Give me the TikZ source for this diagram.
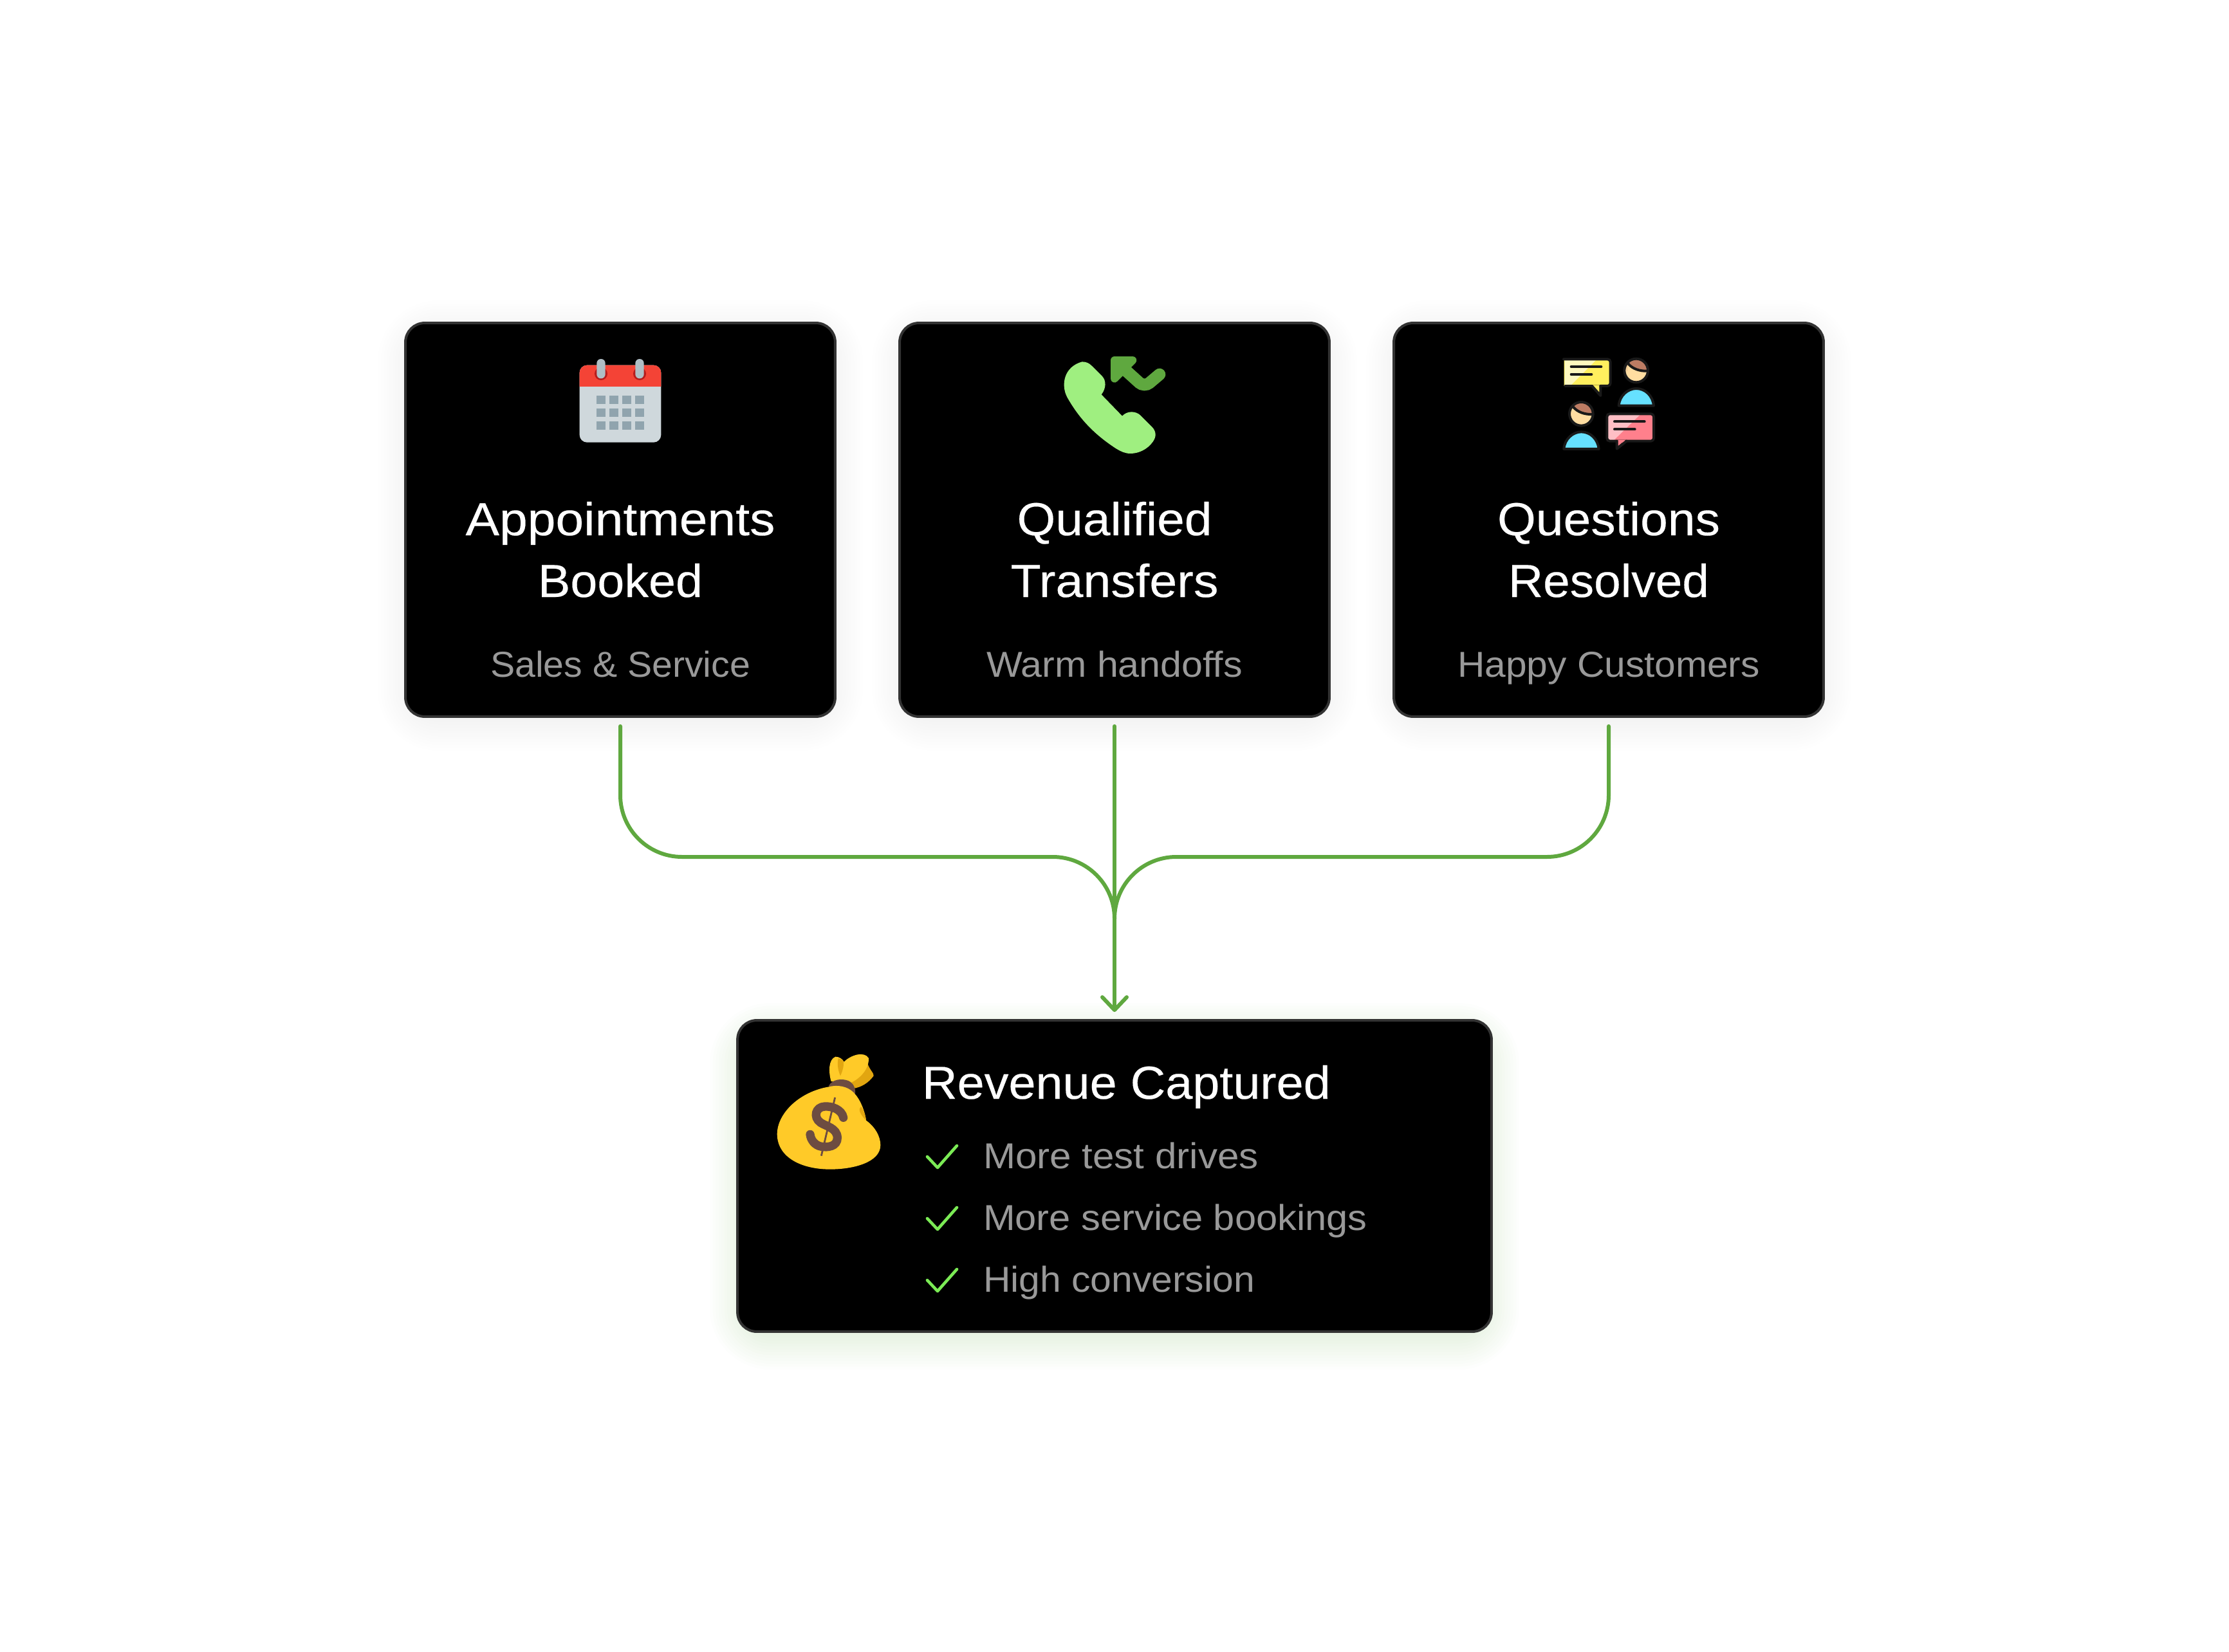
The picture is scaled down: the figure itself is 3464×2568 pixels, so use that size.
\documentclass[tikz,border=0pt]{standalone}
\usepackage{fontspec}
\usepackage{graphicx}
\setmainfont{Liberation Sans}
\newfontfamily\titlefont[FakeBold=0.25]{Liberation Sans}
\usetikzlibrary{calc,arrows.meta}
\definecolor{linkgreen}{HTML}{5FA83F}
\definecolor{bordergrey}{HTML}{333333}
\definecolor{subgrey}{HTML}{999999}
\definecolor{checkgreen}{HTML}{7BEB55}
\definecolor{calred}{HTML}{F44336}
\definecolor{calring}{HTML}{B71C1C}
\definecolor{calbar}{HTML}{B0BEC5}
\definecolor{calbody}{HTML}{CFD8DC}
\definecolor{calcell}{HTML}{90A4AE}
\definecolor{phonegreen}{HTML}{9FEF80}
\definecolor{iconink}{HTML}{191919}
\definecolor{bubyellow}{HTML}{FFEF5E}
\definecolor{bubyellowl}{HTML}{FFF9BF}
\definecolor{bubpink}{HTML}{FF808C}
\definecolor{bubpinkl}{HTML}{FFBFC5}
\definecolor{skin}{HTML}{FFDDA1}
\definecolor{hair}{HTML}{BD7C63}
\definecolor{shirt}{HTML}{66E1FF}
\definecolor{bagyellow}{HTML}{FFCA28}
\definecolor{bagdark}{HTML}{E2A610}
\definecolor{bagbrown}{HTML}{6D4C41}
\def\pxu{0.56905pt}
\newsavebox\fitbox
\newcommand\fitw[2]{\sbox\fitbox{#2}\pgfmathsetmacro\fitx{#1*0.56905/\the\wd\fitbox}\scalebox{\fitx}[1]{\usebox\fitbox}}
\newcommand\softglow[6]{% x1 y1 x2 y2 colour opacity
  \foreach \gi in {1,...,14}{
    \pgfmathsetmacro\gd{\gi*4.5}
    \fill[#5,opacity=#6,rounded corners=\gd*0.56905pt+18pt]
      (#1-\gd,#2-\gd) rectangle (#3+\gd,#4+\gd);
  }}
\tikzset{
  cardbox/.style={draw=bordergrey,fill=black,line width=4*\pxu,rounded corners=30*\pxu,inner sep=0pt,outer sep=0pt},
  titletext/.style={text=white,inner sep=0pt,outer sep=0pt,anchor=base,font=\titlefont\fontsize{40.97}{48}\selectfont},
  subtext/.style={text=subgrey,inner sep=0pt,outer sep=0pt,anchor=base,font=\fontsize{31.87}{38}\selectfont},
  link/.style={draw=linkgreen,line width=6*\pxu,line cap=round},
  checkmark/.style={draw=checkgreen,line width=4.6*\pxu,line cap=round,line join=round},
  iconscope/.style={x=0.0066667cm,y=-0.0066667cm},
  inkline/.style={draw=iconink,line width=4*\pxu,line cap=round,line join=round},
}
\begin{document}
\begin{tikzpicture}[x=0.02cm,y=-0.02cm]
\useasboundingbox (0,0) rectangle (3464,2568);
% soft shadows
\softglow{650}{530}{1278}{1104}{black}{0.003}
\softglow{1418}{530}{2046}{1104}{black}{0.003}
\softglow{2186}{530}{2814}{1104}{black}{0.003}
\softglow{1166}{1622}{2298}{2066}{linkgreen}{0.012}
% cards
\node[cardbox,minimum width=668*\pxu,minimum height=612*\pxu] (card1) at (964,808) {};
\node[cardbox,minimum width=668*\pxu,minimum height=612*\pxu] (card2) at (1732,808) {};
\node[cardbox,minimum width=668*\pxu,minimum height=612*\pxu] (card3) at (2500,808) {};
\node[cardbox,minimum width=1172*\pxu,minimum height=484*\pxu] (result) at (1732,1828) {};
% card text
\node[titletext] (t1a) at (964,832) {\fitw{481}{Appointments}};
\node[titletext] (t1b) at (964,928) {\fitw{256}{Booked}};
\node[subtext] (s1) at (964,1052) {\fitw{404}{Sales \& Service}};
\node[titletext] (t2a) at (1732,832) {\fitw{303}{Qualified}};
\node[titletext] (t2b) at (1732,928) {\fitw{323}{Transfers}};
\node[subtext] (s2) at (1732,1052) {\fitw{398}{Warm handoffs}};
\node[titletext] (t3a) at (2500,832) {\fitw{346}{Questions}};
\node[titletext] (t3b) at (2500,928) {\fitw{312}{Resolved}};
\node[subtext] (s3) at (2500,1052) {\fitw{470}{Happy Customers}};
\node[titletext,anchor=base west] (rt) at (1433,1708) {\fitw{635}{Revenue Captured}};
\node[subtext,anchor=base west] (r1) at (1528,1816) {\fitw{428}{More test drives}};
\node[subtext,anchor=base west] (r2) at (1528,1912) {\fitw{597}{More service bookings}};
\node[subtext,anchor=base west] (r3) at (1528,2008) {\fitw{422}{High conversion}};
% connectors
\coordinate (merge) at (1732,1428);
\coordinate (bus) at (1732,1332);
\coordinate (from1) at ($(card1.south)+(0,15)$);
\coordinate (from2) at ($(card2.south)+(0,15)$);
\coordinate (from3) at ($(card3.south)+(0,15)$);
\coordinate (into) at ($(result.north)+(0,-13)$);
\draw[link,rounded corners=96*\pxu] (from1) -- (from1 |- bus) -- (bus) -- (merge);
\draw[link,rounded corners=96*\pxu] (from3) -- (from3 |- bus) -- (bus) -- (merge);
\draw[link,-{Straight Barb[length=20*\pxu,width=38*\pxu,round]}] (from2) -- (into);
% check marks
\foreach \cy in {1798,1894,1990}{
  \draw[checkmark] (1441,\cy) -- (1457,\cy+17) -- (1487,\cy-17);
}
% calendar icon
\begin{scope}[shift={(860,530)},iconscope]
  \fill[calbody,rounded corners=6.6pt] (122,113) rectangle (502,473);
  \fill[calred] (122,213) [rounded corners=6.6pt] -- (122,113) -- (502,113) [sharp corners] -- (502,213) -- cycle;
  \fill[calring] (222,153) circle (30);
  \fill[calring] (402,153) circle (30);
  \fill[calbar,rounded corners=3.7pt] (202,84) rectangle (242,175);
  \fill[calbar,rounded corners=3.7pt] (382,84) rectangle (422,175);
  \foreach \gx in {202,262,322,382}{
    \foreach \gy in {254,314,374}{
      \fill[calcell] (\gx,\gy) rectangle (\gx+40,\gy+40);
    }
  }
\end{scope}
% phone icon
\begin{scope}[shift={(1620,530)},iconscope]
  \fill[phonegreen] (185,97) .. controls (205,97) and (218,104) .. (230,116)
    -- (278,164) .. controls (298,184) and (298,220) .. (275,250)
    -- (372,350) .. controls (395,325) and (435,325) .. (458,348)
    -- (510,400) .. controls (530,420) and (533,445) .. (515,470)
    .. controls (490,505) and (450,525) .. (410,525)
    .. controls (385,525) and (365,515) .. (345,503)
    .. controls (240,435) and (170,360) .. (115,262)
    .. controls (85,205) and (100,120) .. (185,97) -- cycle;
  \fill[linkgreen,draw=linkgreen,line width=12*\pxu,line join=round]
     (336,90) -- (421,90) -- (336,176) -- cycle;
  \draw[linkgreen,line width=18.7*\pxu,line cap=round,rounded corners=6pt] (380,130) -- (475,216) -- (546,156);
\end{scope}
% questions icon
\begin{scope}[shift={(2400,530)},iconscope]
  % yellow bubble
  \path[fill=bubyellow] (92,85) -- (308,85) -- (308,210) -- (262,210) -- (262,257) -- (220,210) -- (92,210) -- cycle;
  \fill[bubyellowl] (95,90) -- (240,90) -- (125,205) -- (95,205) -- cycle;
  \draw[inkline,rounded corners=2.5pt] (90,85) -- (308,85) -- (308,210) -- (262,210);
  \draw[inkline,rounded corners=2.5pt] (262,210) -- (90,210) -- cycle;
  \fill[bubyellow] (224,205) -- (257,205) -- (257,240) -- cycle;
  \draw[inkline] (222,210) -- (262,255) -- (262,210);
  \draw[inkline] (125,120) -- (265,120);
  \draw[inkline] (125,156) -- (220,156);
  % pink bubble
  \path[fill=bubpink] (292,340) -- (510,340) -- (510,467) -- (292,467) -- cycle;
  \fill[bubpinkl] (297,345) -- (445,345) -- (325,462) -- (297,462) -- cycle;
  \draw[inkline,rounded corners=2.5pt] (292,340) -- (510,340) -- (510,467) -- (292,467) -- cycle;
  \fill[bubpink] (343,462) -- (378,462) -- (343,490) -- cycle;
  \draw[draw=bubpink,line width=4*\pxu] (345,467) -- (376,467);
  \draw[inkline] (383,467) -- (338,503) -- (338,467);
  \draw[inkline] (327,376) -- (467,376);
  \draw[inkline] (327,412) -- (422,412);
  % people
  \foreach \dx/\dy in {0/0,-256/202}{
    \begin{scope}[shift={(\dx,\dy)}]
      \fill[skin] (428,138) circle (55);
      \begin{scope}
        \clip (428,138) circle (55);
        \fill[hair] (385,78) rectangle (490,140) ;
        \fill[skin] (385,100) .. controls (410,132) and (445,142) .. (490,140) -- (490,200) -- (385,200) -- cycle;
      \end{scope}
      \draw[inkline] (390,105) .. controls (410,130) and (445,142) .. (482,140);
      \draw[inkline] (428,138) circle (55);
      \fill[shirt] (347,302) .. controls (350,255) and (390,222) .. (428,222) .. controls (470,222) and (505,255) .. (510,302) -- cycle;
      \draw[inkline] (347,302) .. controls (350,255) and (390,222) .. (428,222) .. controls (470,222) and (505,255) .. (510,302) -- cycle;
    \end{scope}
  }
\end{scope}
% money bag icon
\begin{scope}[shift={(1180,1600)},iconscope]
  \fill[bagdark] (395,200) -- (505,160) .. controls (515,190) and (535,205) .. (533,217)
     .. controls (510,250) and (475,270) .. (440,276) -- cycle;
  \fill[bagyellow] (335,243) .. controls (322,200) and (322,140) .. (355,128)
     .. controls (372,128) and (388,138) .. (395,152)
     .. controls (425,120) and (490,100) .. (510,135)
     .. controls (512,185) and (470,230) .. (425,250) -- cycle;
  \fill[bagdark] (368,135) .. controls (362,165) and (368,195) .. (378,217) .. controls (388,195) and (395,170) .. (393,150) .. controls (385,142) and (378,136) .. (368,135) -- cycle;
  \fill[bagbrown] (323,265) .. controls (340,232) and (385,228) .. (415,240) .. controls (438,250) and (450,275) .. (447,300) -- (400,290) -- cycle;
  \fill[bagyellow] (325,268) .. controls (365,258) and (410,265) .. (440,295)
     .. controls (470,325) and (492,380) .. (498,425)
     .. controls (540,455) and (565,500) .. (565,540)
     .. controls (565,620) and (440,653) .. (330,653)
     .. controls (200,653) and (85,600) .. (83,490)
     .. controls (83,390) and (190,290) .. (325,268) -- cycle;
  \fill[bagdark] (474,360) .. controls (460,372) and (468,395) .. (498,425) .. controls (495,400) and (487,378) .. (474,360) -- cycle;
  \draw[bagbrown,line width=13.3*\pxu,line cap=round] (392,412)
     .. controls (385,375) and (340,358) .. (305,360)
     .. controls (262,362) and (250,410) .. (285,435)
     .. controls (310,452) and (362,460) .. (364,505)
     .. controls (365,548) and (315,552) .. (290,547)
     .. controls (258,542) and (240,515) .. (237,490);
  \draw[bagbrown,line width=2.8*\pxu] (353,318) -- (289,590);
\end{scope}
\end{tikzpicture}
\end{document}
